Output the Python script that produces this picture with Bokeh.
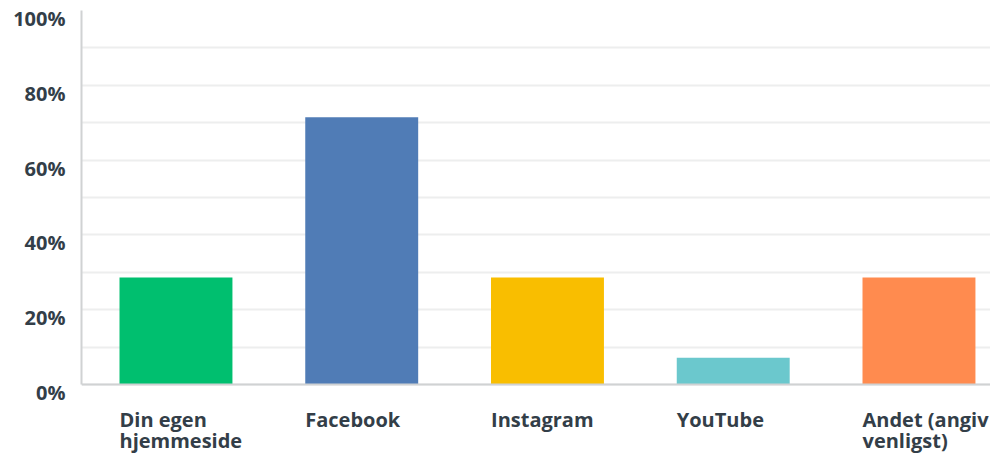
from bokeh.plotting import figure
from bokeh.models import Range1d, FixedTicker, ColumnDataSource, Span, LinearAxis
from bokeh.core.properties import value
from bokeh.embed import file_html
from bokeh.resources import INLINE

categories = ["Din egen\nhjemmeside", "Facebook", "Instagram", "YouTube", "Andet (angiv\nvenligst)"]
values = [28.57, 71.43, 28.57, 7.14, 28.57]
colors = ["#00BF6F", "#507CB6", "#F9BE00", "#6BC8CD", "#FF8B4F"]
y_ticks = [0, 20, 40, 60, 80, 100]
y_minor = [10, 30, 50, 70, 90]
y_labels = ["0%", "20%", "40%", "60%", "80%", "100%"]

bar_w = 0.608
pos = list(range(len(categories)))
centers = [p_ + bar_w / 2 for p_ in pos]

src = ColumnDataSource(dict(x=centers, top=values, color=colors))
lab_src = ColumnDataSource(dict(x=pos, y=[0] * len(pos), text=categories))

TEXT = "#333E48"
FONT = "Open Sans"
FS = "20px"
FW = 909
UNIT = 185.75
x0 = -0.2046
FH = 443
PX_PER_Y = 3.735
y_bottom = -(FH - 374) / PX_PER_Y
lab_shift = 8 / PX_PER_Y  # tick labels sit slightly below their gridlines

p = figure(frame_width=FW, frame_height=FH, output_backend="svg", toolbar_location=None,
           x_range=Range1d(x0, x0 + FW / UNIT), y_range=Range1d(y_bottom, 100))
p.extra_y_ranges = {"lab": Range1d(y_bottom + lab_shift, 100 + lab_shift)}
p.min_border_left = 81
p.min_border_top = 10
p.min_border_right = 0
p.min_border_bottom = 0
p.outline_line_color = None
p.background_fill_color = "white"

p.vbar(x="x", top="top", width=bar_w, bottom=0, color="color", line_color=None, source=src)

# main y axis: line only
ya = p.yaxis[0]
ya.ticker = FixedTicker(ticks=[])
ya.bounds = (0, 100)
ya.major_label_standoff = 0
ya.major_tick_line_color = None
ya.minor_tick_line_color = None
ya.axis_line_color = "#D0D2D3"
ya.axis_line_width = 2

# label axis
la = LinearAxis(y_range_name="lab", ticker=FixedTicker(ticks=y_ticks))
la.major_label_overrides = {t: l for t, l in zip(y_ticks, y_labels)}
la.axis_line_color = None
la.major_tick_line_color = None
la.minor_tick_line_color = None
la.major_label_standoff = 10
la.major_label_text_font = FONT
la.major_label_text_font_size = FS
la.major_label_text_font_style = "bold"
la.major_label_text_color = TEXT
p.add_layout(la, "left")

p.xaxis.visible = False

p.xgrid.grid_line_color = None
p.ygrid.ticker = FixedTicker(ticks=y_ticks, minor_ticks=y_minor)
p.ygrid.grid_line_color = "#EDEEEE"
p.ygrid.grid_line_width = 2
p.ygrid.minor_grid_line_color = "#EDEEEE"
p.ygrid.minor_grid_line_width = 2

# baseline (x axis line)
p.add_layout(Span(location=0, dimension="width", line_color="#D0D2D3", line_width=2))

# category labels, left-aligned at bar edges
p.text(x="x", y="y", text="text", source=lab_src, y_offset=22,
       text_align="left", text_baseline="top",
       text_font=value(FONT), text_font_size=FS, text_font_style="bold",
       text_color=TEXT, text_line_height=0.775)

open("out.html", "w").write(file_html(p, INLINE))
